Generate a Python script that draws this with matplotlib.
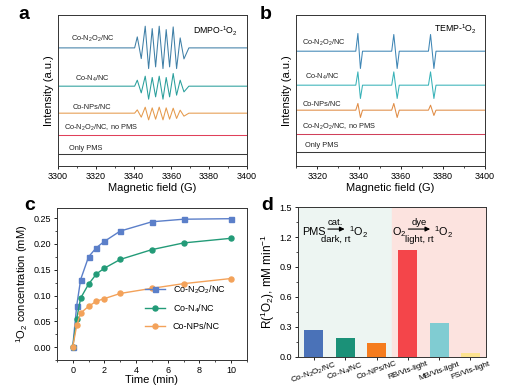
import matplotlib
matplotlib.use("Agg")
import matplotlib.pyplot as plt
import matplotlib.transforms as mtransforms
from matplotlib.ticker import MultipleLocator

plt.rcParams['font.family'] = ['Liberation Sans', 'DejaVu Sans']
plt.rcParams['mathtext.fontset'] = 'custom'
plt.rcParams['mathtext.rm'] = 'Liberation Sans'
plt.rcParams['mathtext.it'] = 'Liberation Sans:italic'
plt.rcParams['mathtext.bf'] = 'Liberation Sans:bold'
plt.rcParams['axes.linewidth'] = 0.7
plt.rcParams['axes.edgecolor'] = '#333333'

# ---------------- data ----------------
# panel a: DMPO-1O2 EPR (field in G, relative intensity, read at extrema)
field_a = [3300, 3340.6, 3342.0, 3344.1, 3346.2, 3348.0, 3349.9, 3351.7, 3353.6,
           3355.6, 3357.3, 3359.1, 3361.0, 3362.8, 3364.7, 3366.7, 3369.3, 3400]
a_n2o2 = [0, 0, 11, -10.7, 21.7, -20.7, 19.3, -19, 21.7, -20.7, 18.3, -19, 21, -20.7, 10, -11, 0, 0]
a_n4 = [0, 0, 6, -6.7, 10, -13, 8.7, -10.7, 10, -13, 8.7, -10.7, 12.7, -9, 6, -5.7, 0, 0]
a_nps = [0, 0, 3.3, -4, 6, -6.7, 5.3, -6, 6, -6.7, 5.3, -6, 5, -5.3, 3, -3, 0, 0]
field_a_flat = [3300, 3400]
a_nopms = [0, 0]
a_pms = [0, 0]

# panel b: TEMP-1O2 EPR
field_b = [3310, 3338.4, 3339.4, 3340.6, 3341.6, 3355.5, 3356.5, 3358.1, 3359.1,
           3373.0, 3374.0, 3375.6, 3376.6, 3400]
b_n2o2 = [0, 0, 17.7, -17.3, 0, 0, 16.7, -17.3, 0, 0, 16.7, -17.3, 0, 0]
b_n4 = [0, 0, 13.3, -13.3, 0, 0, 13.3, -13.3, 0, 0, 13.3, -13.3, 0, 0]
b_nps = [0, 0, 6.7, -7.3, 0, 0, 6.7, -7.3, 0, 0, 5, -5.3, 0, 0]
field_b_flat = [3310, 3400]
b_nopms = [0, 0]
b_pms = [0, 0]

epr_labels = ['Co-N$_2$O$_2$/NC', 'Co-N$_4$/NC', 'Co-NPs/NC',
              'Co-N$_2$O$_2$/NC, no PMS', 'Only PMS']

# panel c
time_min = [0, 0.25, 0.5, 1, 1.5, 2, 3, 5, 7, 10]
c_n2o2 = [0, 0.080, 0.131, 0.175, 0.193, 0.205, 0.225, 0.243, 0.248, 0.249]
c_n4 = [0, 0.055, 0.095, 0.122, 0.142, 0.153, 0.170, 0.189, 0.202, 0.211]
c_nps = [0, 0.042, 0.066, 0.079, 0.089, 0.094, 0.104, 0.114, 0.123, 0.133]
c_labels = ['Co-N$_2$O$_2$/NC', 'Co-N$_4$/NC', 'Co-NPs/NC']

# panel d
d_cats = ['Co-N$_2$O$_2$/NC', 'Co-N$_4$/NC', 'Co-NPs/NC',
          'RB/Vis-light', 'MB/Vis-light', 'FS/Vis-light']
d_vals = [0.265, 0.19, 0.135, 1.07, 0.34, 0.04]

# ---------------- styles ----------------
epr_colors_a = ['#3f7fa6', '#2a9f9c', '#e59a4c', '#e0405a', '#3a3a3a']
epr_colors_b = ['#3f86b5', '#38b2b8', '#e08c45', '#d0405a', '#3a3a3a']
offs_a = [118.3, 80, 53, 31, 12]
offs_b = [115, 81, 56, 32, 14]
c_colors = ['#5b7fc9', '#239b78', '#f3a25a']
d_colors = ['#4a72b8', '#1b9178', '#f57c1e', '#f4454a', '#80ccd2', '#fde38f']

fig = plt.figure(figsize=(5.08, 3.90), dpi=100)

tick_fs = 6.5
lab_fs = 8

def style_epr(ax, xmin):
    ax.set_xlim(xmin, 3400)
    ax.set_ylim(0, 151)
    ax.set_yticks([])
    ax.xaxis.set_major_locator(MultipleLocator(20))
    ax.xaxis.set_minor_locator(MultipleLocator(10))
    ax.tick_params(axis='x', which='major', length=2.5, width=0.6, labelsize=tick_fs, pad=2)
    ax.tick_params(axis='x', which='minor', length=1.5, width=0.5)
    ax.set_xlabel('Magnetic field (G)', fontsize=lab_fs, labelpad=1)
    ax.set_ylabel('Intensity (a.u.)', fontsize=lab_fs, labelpad=3)

# ---- panel a ----
axa = fig.add_axes([0.114, 0.574, 0.372, 0.387])
series_a = [(field_a, a_n2o2), (field_a, a_n4), (field_a, a_nps),
            (field_a_flat, a_nopms), (field_a_flat, a_pms)]
for (fx, fy), off, col in zip(series_a, offs_a, epr_colors_a):
    axa.plot(fx, [v + off for v in fy], color=col, lw=0.75)
style_epr(axa, 3300)
lab_pos_a = [(3307, 127), (3309, 87), (3308, 59), (3303, 38), (3306, 18)]
for (x, y), t in zip(lab_pos_a, epr_labels):
    axa.text(x, y, t, fontsize=5.3, color='#222222', va='center')
axa.text(3395, 135, 'DMPO-$^1$O$_2$', fontsize=6.3, ha='right', va='center')

# ---- panel b ----
axb = fig.add_axes([0.583, 0.574, 0.372, 0.387])
series_b = [(field_b, b_n2o2), (field_b, b_n4), (field_b, b_nps),
            (field_b_flat, b_nopms), (field_b_flat, b_pms)]
for (fx, fy), off, col in zip(series_b, offs_b, epr_colors_b):
    axb.plot(fx, [v + off for v in fy], color=col, lw=0.75)
style_epr(axb, 3310)
lab_pos_b = [(3313, 123), (3314, 89), (3313, 62), (3313, 39), (3314, 21)]
for (x, y), t in zip(lab_pos_b, epr_labels):
    axb.text(x, y, t, fontsize=5.3, color='#222222', va='center')
axb.text(3396, 137, 'TEMP-$^1$O$_2$', fontsize=6.3, ha='right', va='center')

# ---- panel c ----
axc = fig.add_axes([0.112, 0.077, 0.374, 0.390])
markers = ['s', 'o', 'o']
for ys, col, mk, lab in zip([c_n2o2, c_n4, c_nps], c_colors, markers, c_labels):
    axc.plot(time_min, ys, color=col, marker=mk, ms=3.6, lw=1.0, label=lab)
axc.set_xlim(-1, 11)
axc.set_ylim(-0.025, 0.27)
axc.xaxis.set_major_locator(MultipleLocator(2))
axc.xaxis.set_minor_locator(MultipleLocator(1))
axc.yaxis.set_major_locator(MultipleLocator(0.05))
axc.yaxis.set_minor_locator(MultipleLocator(0.025))
axc.yaxis.set_major_formatter(matplotlib.ticker.FormatStrFormatter('%.2f'))
axc.tick_params(which='major', length=2.5, width=0.6, labelsize=tick_fs, pad=2)
axc.tick_params(which='minor', length=1.5, width=0.5)
axc.set_xlabel('Time (min)', fontsize=lab_fs, labelpad=0)
axc.set_ylabel('$^1$O$_2$ concentration (mM)', fontsize=lab_fs, labelpad=2)
axc.legend(loc='lower right', bbox_to_anchor=(0.92, 0.15), frameon=False, fontsize=6.5,
           handlelength=2.2, labelspacing=0.75, borderaxespad=0.3)

# ---- panel d ----
axd = fig.add_axes([0.587, 0.085, 0.370, 0.384])
xs = list(range(len(d_cats)))
axd.axvspan(-0.5, 2.5, color='#edf5f2', zorder=0)
axd.axvspan(2.5, 5.5, color='#fce3df', zorder=0)
axd.bar(xs, d_vals, width=0.6, color=d_colors, zorder=2)
axd.set_xlim(-0.5, 5.5)
axd.set_ylim(0, 1.5)
axd.yaxis.set_major_locator(MultipleLocator(0.3))
axd.yaxis.set_minor_locator(MultipleLocator(0.15))
axd.set_xticks(xs)
axd.set_xticklabels(d_cats, rotation=20, ha='center')
shift = mtransforms.ScaledTranslation(-5 / 100, 0, fig.dpi_scale_trans)
for lbl in axd.get_xticklabels():
    lbl.set_transform(lbl.get_transform() + shift)
axd.tick_params(which='major', length=2.5, width=0.6, labelsize=tick_fs, pad=2)
axd.tick_params(axis='y', which='minor', length=1.5, width=0.5)
axd.tick_params(axis='x', labelsize=5.9, pad=0.5, length=2)
axd.set_ylabel('R($^1$O$_2$), mM min$^{-1}$', fontsize=lab_fs + 0.5, labelpad=2)

ann_fs = 7.8
sub_fs = 6.8
axd.text(0.0, 1.25, 'PMS', fontsize=ann_fs, ha='center', va='center')
axd.annotate('', xy=(1.07, 1.28), xytext=(0.36, 1.28),
             arrowprops=dict(arrowstyle='-|>', lw=0.8, color='black', mutation_scale=7))
axd.text(0.70, 1.35, 'cat.', fontsize=sub_fs, ha='center', va='center')
axd.text(0.70, 1.18, 'dark, rt', fontsize=sub_fs, ha='center', va='center')
axd.text(1.12, 1.25, '$^1$O$_2$', fontsize=ann_fs, ha='left', va='center')
axd.text(2.72, 1.25, 'O$_2$', fontsize=ann_fs, ha='center', va='center')
axd.annotate('', xy=(3.8, 1.28), xytext=(2.93, 1.28),
             arrowprops=dict(arrowstyle='-|>', lw=0.8, color='black', mutation_scale=7))
axd.text(3.36, 1.35, 'dye', fontsize=sub_fs, ha='center', va='center')
axd.text(3.36, 1.18, 'light, rt', fontsize=sub_fs, ha='center', va='center')
axd.text(3.82, 1.25, '$^1$O$_2$', fontsize=ann_fs, ha='left', va='center')

# panel letters
for x, y, t in [(0.036, 0.962, 'a'), (0.512, 0.962, 'b'), (0.048, 0.472, 'c'), (0.515, 0.472, 'd')]:
    fig.text(x, y, t, fontsize=14, fontweight='bold', ha='left', va='center')

fig.savefig('out.png', dpi=100)
